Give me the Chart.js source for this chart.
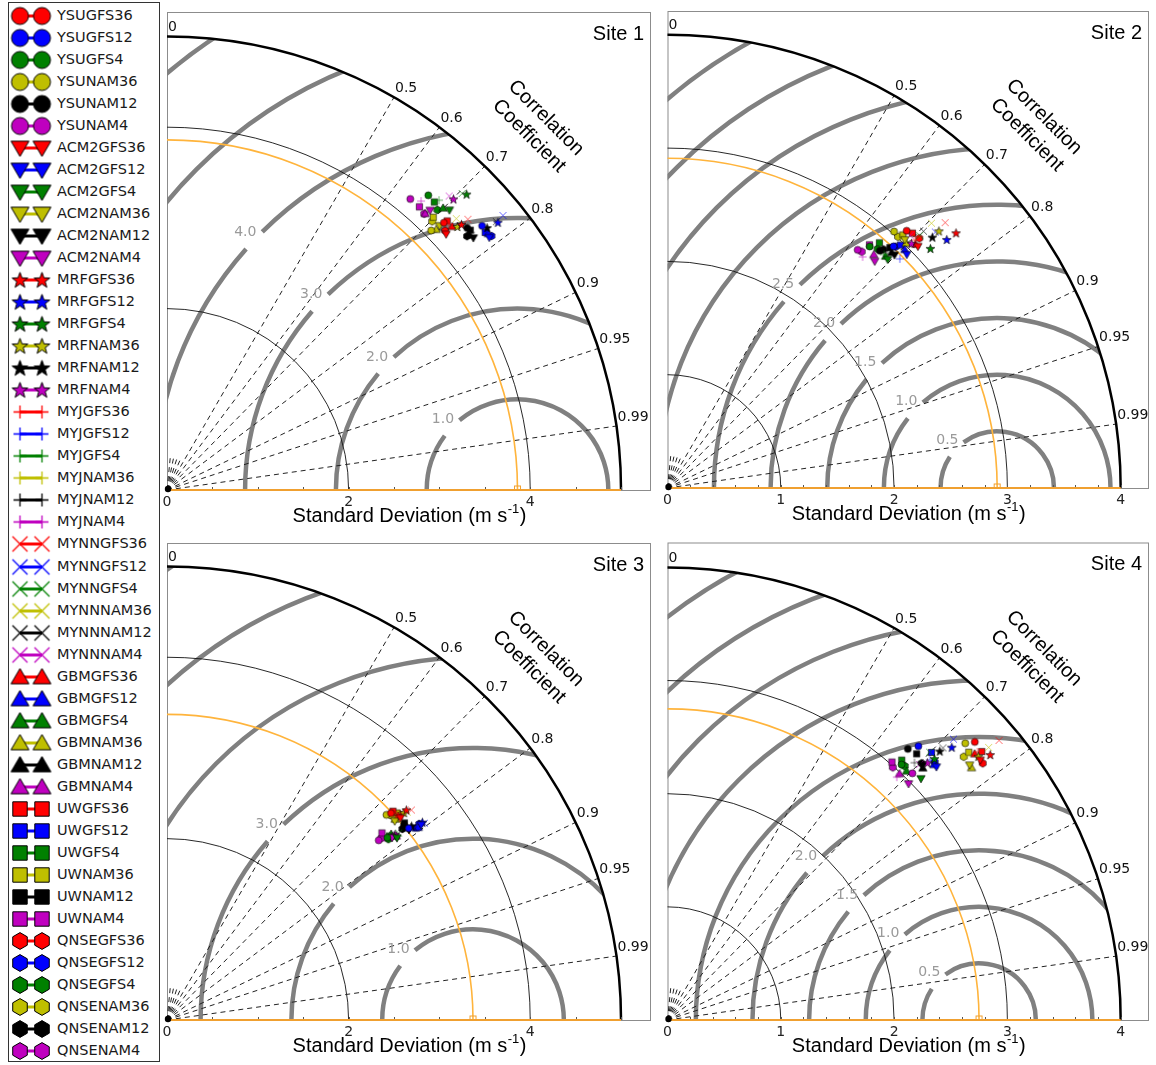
<!DOCTYPE html>
<html>
<head>
<meta charset="utf-8">
<script src="https://cdn.jsdelivr.net/npm/chart.js"></script>
<style>
  body { margin: 0; background: #fff; width: 1156px; height: 1065px; position: relative; overflow: hidden; }
  canvas.panel { position: absolute; }
  #legend { position: absolute; left: 8px; top: 2px; width: 152px; height: 1060px; border: 1px solid #333; box-sizing: border-box; background: #fff; }
  #legend .row { position: absolute; left: 0; height: 22px; width: 150px; }
  #legend .row canvas { position: absolute; left: 0; top: 0; }
  #legend .row span { position: absolute; left: 48px; top: 2px; font: 14.5px "DejaVu Sans", sans-serif; color: #1a1a1a; white-space: nowrap; }
</style>
</head>
<body>
<div id="legend"></div>
<canvas class="panel" id="site1"></canvas>
<canvas class="panel" id="site2"></canvas>
<canvas class="panel" id="site3"></canvas>
<canvas class="panel" id="site4"></canvas>
<script>
// 模式组合：边界层方案 × 驱动场
const schemes = ['YSU', 'ACM2', 'MRF', 'MYJ', 'MYNN', 'GBM', 'UW', 'QNSE'];
const forcings = ['GFS36', 'GFS12', 'GFS4', 'NAM36', 'NAM12', 'NAM4'];
const siteNames = ['Site 1', 'Site 2', 'Site 3', 'Site 4'];

// 观测标准差和图的最大半径
const refStd = [3.86, 2.91, 3.37, 2.75];
const maxStd = [5, 4, 5, 4];
const stdTicks = [[0, 2, 4], [0, 1, 2, 3, 4], [0, 2, 4], [0, 1, 2, 3, 4]];
const stdMinorStep = [0.5, 0.2, 0.5, 0.2];
const stdGrid = [[2, 4], [1, 2, 3], [2, 4], [1, 2, 3]];
const rmsLevels = [
  [1, 2, 3, 4, 5, 6],
  [0.5, 1, 1.5, 2, 2.5, 3, 3.5, 4, 4.5],
  [1, 2, 3, 4, 5, 6],
  [0.5, 1, 1.5, 2, 2.5, 3, 3.5, 4, 4.5]
];
const rmsLabels = [[1, 2, 3, 4], [0.5, 1, 1.5, 2, 2.5], [1, 2, 3], [0.5, 1, 1.5, 2]];
const corrLines = [0.1, 0.2, 0.3, 0.4, 0.5, 0.6, 0.7, 0.8, 0.9, 0.95, 0.99];
const corrLabels = [0, 0.5, 0.6, 0.7, 0.8, 0.9, 0.95, 0.99];

// 每个站点：按 YSU..QNSE，每组 GFS36, GFS12, GFS4, NAM36, NAM12, NAM4
const std1 = [
  4.24, 4.53, 4.34, 4.08, 4.39, 4.18,
  4.17, 4.51, 4.38, 4.18, 4.37, 4.23,
  4.37, 4.69, 4.64, 4.32, 4.56, 4.50,
  4.27, 4.53, 4.38, 4.18, 4.39, 4.24,
  4.46, 4.78, 4.61, 4.37, 4.68, 4.49,
  4.28, 4.53, 4.35, 4.13, 4.36, 4.17,
  4.28, 4.51, 4.33, 4.20, 4.40, 4.18,
  4.19, 4.54, 4.29, 4.16, 4.33, 4.16
];
const corr1 = [
  0.719, 0.766, 0.663, 0.713, 0.753, 0.641,
  0.737, 0.787, 0.710, 0.718, 0.772, 0.685,
  0.742, 0.777, 0.711, 0.740, 0.773, 0.701,
  0.727, 0.776, 0.684, 0.707, 0.763, 0.660,
  0.743, 0.774, 0.705, 0.729, 0.775, 0.692,
  0.734, 0.781, 0.699, 0.718, 0.764, 0.682,
  0.721, 0.777, 0.680, 0.698, 0.759, 0.665,
  0.731, 0.787, 0.694, 0.702, 0.763, 0.681
];
const std2 = [
  3.10, 2.92, 2.78, 3.02, 2.81, 2.69,
  3.07, 2.95, 2.80, 3.03, 2.87, 2.71,
  3.40, 3.30, 3.14, 3.30, 3.22, 3.05,
  3.09, 2.88, 2.81, 3.02, 2.86, 2.67,
  3.39, 3.27, 3.15, 3.30, 3.20, 3.09,
  3.07, 2.97, 2.81, 3.02, 2.87, 2.75,
  3.12, 2.97, 2.86, 3.05, 2.89, 2.79,
  3.13, 2.93, 2.81, 3.01, 2.84, 2.70
];
const corr2 = [
  0.681, 0.683, 0.642, 0.662, 0.667, 0.624,
  0.720, 0.716, 0.694, 0.691, 0.698, 0.675,
  0.749, 0.747, 0.739, 0.726, 0.726, 0.706,
  0.706, 0.712, 0.680, 0.684, 0.679, 0.645,
  0.723, 0.723, 0.707, 0.706, 0.706, 0.693,
  0.713, 0.705, 0.685, 0.698, 0.689, 0.662,
  0.693, 0.692, 0.654, 0.681, 0.679, 0.639,
  0.710, 0.687, 0.660, 0.676, 0.671, 0.635
];
const std3 = [
  3.36, 3.40, 3.15, 3.31, 3.38, 3.06,
  3.40, 3.53, 3.23, 3.33, 3.39, 3.19,
  3.51, 3.56, 3.22, 3.47, 3.44, 3.24,
  3.39, 3.49, 3.19, 3.35, 3.38, 3.12,
  3.55, 3.57, 3.28, 3.50, 3.45, 3.25,
  3.40, 3.49, 3.21, 3.35, 3.38, 3.24,
  3.39, 3.46, 3.18, 3.41, 3.40, 3.14,
  3.42, 3.52, 3.15, 3.34, 3.34, 3.10
];
const corr3 = [
  0.734, 0.783, 0.770, 0.730, 0.772, 0.762,
  0.756, 0.793, 0.784, 0.753, 0.786, 0.777,
  0.751, 0.790, 0.777, 0.752, 0.783, 0.775,
  0.746, 0.790, 0.771, 0.744, 0.780, 0.766,
  0.758, 0.794, 0.778, 0.756, 0.787, 0.779,
  0.749, 0.793, 0.769, 0.750, 0.775, 0.779,
  0.734, 0.791, 0.770, 0.743, 0.769, 0.754,
  0.748, 0.789, 0.774, 0.736, 0.776, 0.762
];
const std4 = [
  3.66, 3.28, 3.06, 3.59, 3.20, 3.07,
  3.59, 3.26, 3.09, 3.49, 3.18, 2.98,
  3.69, 3.48, 3.30, 3.60, 3.38, 3.23,
  3.62, 3.26, 3.05, 3.53, 3.15, 2.95,
  3.83, 3.54, 3.31, 3.72, 3.42, 3.17,
  3.59, 3.26, 3.05, 3.49, 3.17, 2.99,
  3.65, 3.32, 3.09, 3.56, 3.22, 3.02,
  3.59, 3.28, 3.07, 3.50, 3.19, 2.99
];
const corr4 = [
  0.741, 0.675, 0.675, 0.732, 0.663, 0.704,
  0.769, 0.728, 0.724, 0.764, 0.707, 0.714,
  0.772, 0.721, 0.714, 0.762, 0.711, 0.710,
  0.756, 0.710, 0.685, 0.750, 0.692, 0.686,
  0.764, 0.713, 0.699, 0.762, 0.711, 0.702,
  0.755, 0.721, 0.692, 0.769, 0.711, 0.685,
  0.760, 0.702, 0.669, 0.747, 0.683, 0.656,
  0.775, 0.719, 0.682, 0.747, 0.703, 0.665
];
const siteStd = [std1, std2, std3, std4];
const siteCorr = [corr1, corr2, corr3, corr4];

// 样式
const schemeShapes = ['circle', 'triangleDown', 'star', 'plus', 'cross', 'triangleUp', 'square', 'hexagon'];
const forcingColors = ['#ff0000', '#0000ff', '#008000', '#bfbf00', '#000000', '#bf00bf'];
const plotSize = { circle: 7, triangleDown: 8, star: 8.5, plus: 8, cross: 7, triangleUp: 8, square: 7, hexagon: 7.5 };
const legendSize = { circle: 17, triangleDown: 17, star: 15, plus: 13, cross: 15, triangleUp: 17, square: 16, hexagon: 16 };

// 四个子图的绘图区（页面坐标）
const panelBoxes = [
  { left: 167, top: 12, right: 651, bottom: 490, xMax: 5.33, yMax: 5.27 },
  { left: 667.5, top: 11, right: 1149, bottom: 488, xMax: 4.25, yMax: 4.21 },
  { left: 167, top: 543, right: 651, bottom: 1020, xMax: 5.33, yMax: 5.26 },
  { left: 667.5, top: 542.5, right: 1149, bottom: 1020, xMax: 4.25, yMax: 4.22 }
];

const NUM_FONT = '14px "DejaVu Sans", sans-serif';
const TXT_FONT = '20px "Liberation Sans", Arial, sans-serif';

// 生成标记图片
function makeMarker(shape, color, size, faint) {
  const pad = 3;
  const dim = Math.ceil(size + pad * 2);
  const cv = document.createElement('canvas');
  cv.width = dim;
  cv.height = dim;
  const g = cv.getContext('2d');
  const c = dim / 2, r = size / 2;
  g.fillStyle = color;
  g.strokeStyle = '#000';
  g.lineWidth = size > 10 ? 1 : 0.6;
  g.beginPath();
  if (shape === 'circle') {
    g.arc(c, c, r, 0, Math.PI * 2);
  } else if (shape === 'square') {
    g.rect(c - r * 0.9, c - r * 0.9, r * 1.8, r * 1.8);
  } else if (shape === 'triangleUp') {
    g.moveTo(c, c - r);
    g.lineTo(c + r * 1.05, c + r * 0.8);
    g.lineTo(c - r * 1.05, c + r * 0.8);
    g.closePath();
  } else if (shape === 'triangleDown') {
    g.moveTo(c, c + r);
    g.lineTo(c + r * 1.05, c - r * 0.8);
    g.lineTo(c - r * 1.05, c - r * 0.8);
    g.closePath();
  } else if (shape === 'star') {
    for (let k = 0; k < 10; k++) {
      const rad = k % 2 ? r * 0.45 : r * 1.1;
      const ang = -Math.PI / 2 + k * Math.PI / 5;
      const px = c + rad * Math.cos(ang), py = c + 0.6 + rad * Math.sin(ang);
      k ? g.lineTo(px, py) : g.moveTo(px, py);
    }
    g.closePath();
  } else if (shape === 'hexagon') {
    for (let k = 0; k < 6; k++) {
      const ang = -Math.PI / 2 + k * Math.PI / 3;
      const px = c + r * 1.05 * Math.cos(ang), py = c + r * 1.05 * Math.sin(ang);
      k ? g.lineTo(px, py) : g.moveTo(px, py);
    }
    g.closePath();
  }
  if (shape === 'plus' || shape === 'cross') {
    g.strokeStyle = color;
    g.globalAlpha = faint ? 0.6 : 1;
    g.lineWidth = size > 10 ? 1.3 : 1;
    if (shape === 'plus') {
      g.moveTo(c - r, c); g.lineTo(c + r, c);
      g.moveTo(c, c - r); g.lineTo(c, c + r);
    } else {
      g.moveTo(c - r, c - r); g.lineTo(c + r, c + r);
      g.moveTo(c - r, c + r); g.lineTo(c + r, c - r);
    }
    g.stroke();
  } else {
    g.fill();
    g.stroke();
  }
  return cv;
}

// 图例
function buildLegend() {
  const box = document.getElementById('legend');
  schemes.forEach((s, si) => {
    forcings.forEach((f, fi) => {
      const i = si * forcings.length + fi;
      const row = document.createElement('div');
      row.className = 'row';
      row.style.top = (1.5 + i * 22.04) + 'px';
      const cv = document.createElement('canvas');
      cv.width = 46;
      cv.height = 22;
      const g = cv.getContext('2d');
      const shape = schemeShapes[si], color = forcingColors[fi];
      g.strokeStyle = color;
      g.lineWidth = 3;
      g.beginPath();
      g.moveTo(11, 11);
      g.lineTo(33, 11);
      g.stroke();
      const m = makeMarker(shape, color, legendSize[shape], false);
      g.drawImage(m, 11 - m.width / 2, 11 - m.height / 2);
      g.drawImage(m, 33 - m.width / 2, 11 - m.height / 2);
      const label = document.createElement('span');
      label.textContent = s + f;
      row.appendChild(cv);
      row.appendChild(label);
      box.appendChild(row);
    });
  });
}

// 泰勒图背景：相关系数射线、标准差弧线、RMS 等值线
function taylorPlugin(site) {
  return {
    id: 'taylorGrid',
    beforeDatasetsDraw(chart) {
      const { ctx, chartArea: a, scales: { x, y } } = chart;
      const ox = x.getPixelForValue(0), oy = y.getPixelForValue(0);
      const kx = x.getPixelForValue(1) - ox, ky = oy - y.getPixelForValue(1);
      const R = maxStd[site], ref = refStd[site];
      const rx = x.getPixelForValue(ref);

      ctx.save();

      // 边框
      ctx.strokeStyle = '#8c8c8c';
      ctx.lineWidth = 1;
      ctx.strokeRect(a.left + 0.5, a.top + 0.5, a.right - a.left - 1, a.bottom - a.top);

      // RMS 等值线（限制在四分之一圆内）
      ctx.font = NUM_FONT;
      const phi = 136.5 * Math.PI / 180;
      ctx.save();
      ctx.beginPath();
      ctx.moveTo(ox, oy);
      ctx.ellipse(ox, oy, R * kx, R * ky, 0, -Math.PI / 2, 0);
      ctx.closePath();
      ctx.clip();
      ctx.strokeStyle = 'rgb(128,128,128)';
      ctx.lineWidth = 4.5;
      rmsLevels[site].forEach(lv => {
        ctx.beginPath();
        if (rmsLabels[site].includes(lv)) {
          const w = ctx.measureText(lv.toFixed(1)).width;
          const d = (w / 2 + 1) / (lv * kx + 12);
          ctx.ellipse(rx, oy, lv * kx, lv * ky, 0, -phi + d, 2 * Math.PI - phi - d);
        } else {
          ctx.ellipse(rx, oy, lv * kx, lv * ky, 0, 0, 2 * Math.PI);
        }
        ctx.stroke();
      });
      ctx.restore();

      // 标准差网格
      ctx.strokeStyle = '#111';
      ctx.lineWidth = 0.9;
      stdGrid[site].forEach(s => {
        ctx.beginPath();
        ctx.ellipse(ox, oy, s * kx, s * ky, 0, -Math.PI / 2, 0);
        ctx.stroke();
      });

      // 相关系数射线
      ctx.setLineDash([5, 4]);
      ctx.strokeStyle = '#222';
      ctx.lineWidth = 1;
      corrLines.forEach(c => {
        const th = Math.acos(c);
        const len = c >= 0.5 ? R : 32 / kx;
        ctx.beginPath();
        ctx.moveTo(ox, oy);
        ctx.lineTo(ox + len * kx * Math.cos(th), oy - len * ky * Math.sin(th));
        ctx.stroke();
      });
      ctx.setLineDash([]);

      // 观测标准差弧线
      ctx.strokeStyle = '#ffb43c';
      ctx.lineWidth = 1.6;
      ctx.beginPath();
      ctx.ellipse(ox, oy, ref * kx, ref * ky, 0, -Math.PI / 2, 0);
      ctx.stroke();

      // 外圈
      ctx.strokeStyle = '#000';
      ctx.lineWidth = 2.5;
      ctx.beginPath();
      ctx.ellipse(ox, oy, R * kx, R * ky, 0, -Math.PI / 2, 0);
      ctx.stroke();

      // 横轴：刻度、标签、标题
      ctx.strokeStyle = '#555';
      ctx.lineWidth = 1;
      const step = stdMinorStep[site];
      for (let v = step; v <= R + 1e-6; v += step) {
        const px = Math.round(x.getPixelForValue(v)) + 0.5;
        ctx.beginPath();
        ctx.moveTo(px, oy);
        ctx.lineTo(px, oy - 3);
        ctx.stroke();
      }
      ctx.strokeStyle = '#f0a030';
      ctx.lineWidth = 2;
      ctx.beginPath();
      ctx.moveTo(ox, oy);
      ctx.lineTo(ox + R * kx, oy);
      ctx.stroke();

      ctx.fillStyle = '#222';
      ctx.font = NUM_FONT;
      ctx.textAlign = 'center';
      ctx.textBaseline = 'top';
      stdTicks[site].forEach(v => ctx.fillText(String(v), x.getPixelForValue(v), oy + 5));

      const main = 'Standard Deviation (m s', sup = '-1', tail = ')';
      ctx.font = TXT_FONT;
      const w1 = ctx.measureText(main).width, w3 = ctx.measureText(tail).width;
      ctx.font = '13px "Liberation Sans", Arial, sans-serif';
      const w2 = ctx.measureText(sup).width;
      let tx = (a.left + a.right) / 2 - (w1 + w2 + w3) / 2;
      const ty = oy + 26;
      ctx.textAlign = 'left';
      ctx.textBaseline = 'middle';
      ctx.fillStyle = '#000';
      ctx.font = TXT_FONT;
      ctx.fillText(main, tx, ty);
      ctx.font = '13px "Liberation Sans", Arial, sans-serif';
      ctx.fillText(sup, tx + w1 + 0.5, ty - 7);
      ctx.font = TXT_FONT;
      ctx.fillText(tail, tx + w1 + w2 + 1, ty);

      // 相关系数标签
      ctx.font = NUM_FONT;
      ctx.fillStyle = '#111';
      ctx.textAlign = 'left';
      ctx.textBaseline = 'bottom';
      corrLabels.forEach(c => {
        const th = Math.acos(c);
        ctx.fillText(String(c), ox + R * kx * Math.cos(th) + 1, oy - R * ky * Math.sin(th) - 2);
      });

      // RMS 标签
      ctx.fillStyle = '#9a9a9a';
      ctx.textAlign = 'center';
      ctx.textBaseline = 'middle';
      rmsLabels[site].forEach(lv => {
        ctx.fillText(lv.toFixed(1), rx + (lv * kx + 12) * Math.cos(phi), oy - (lv * ky + 12) * Math.sin(phi));
      });

      // 站点名和坐标名
      ctx.font = TXT_FONT;
      ctx.fillStyle = '#000';
      ctx.textAlign = 'right';
      ctx.fillText(siteNames[site], a.right - 7, a.top + 22);

      ctx.textAlign = 'center';
      [['Correlation', -105, 106], ['Coefficient', -122, 124]].forEach(([t, dx, dy]) => {
        ctx.save();
        ctx.translate(a.right + dx, a.top + dy);
        ctx.rotate(Math.PI / 4);
        ctx.fillText(t, 0, 0);
        ctx.restore();
      });

      // 原点和观测点
      ctx.fillStyle = '#000';
      ctx.beginPath();
      ctx.arc(ox + 1, oy - 1, 3.2, 0, Math.PI * 2);
      ctx.fill();
      ctx.strokeStyle = '#f0a030';
      ctx.lineWidth = 1;
      ctx.strokeRect(rx - 3, oy - 4, 6, 4);

      ctx.restore();
    }
  };
}

function initPanel(site) {
  const box = panelBoxes[site];
  const cv = document.getElementById('site' + (site + 1));
  const cl = Math.floor(box.left) - 8, ct = Math.floor(box.top) - 12;
  const w = Math.ceil(box.right) + 8 - cl, h = Math.ceil(box.bottom) + 45 - ct;
  cv.width = w;
  cv.height = h;
  cv.style.left = cl + 'px';
  cv.style.top = ct + 'px';
  cv.style.width = w + 'px';
  cv.style.height = h + 'px';

  const stds = siteStd[site], corrs = siteCorr[site];
  const datasets = [];
  schemes.forEach((s, si) => {
    forcings.forEach((f, fi) => {
      const i = si * forcings.length + fi;
      const shape = schemeShapes[si];
      datasets.push({
        label: s + f,
        data: [{ x: stds[i] * corrs[i], y: stds[i] * Math.sqrt(1 - corrs[i] * corrs[i]) }],
        pointStyle: makeMarker(shape, forcingColors[fi], plotSize[shape], true),
        pointRadius: 4
      });
    });
  });

  new Chart(cv, {
    type: 'scatter',
    data: { datasets },
    options: {
      responsive: false,
      animation: false,
      events: [],
      layout: {
        padding: {
          left: box.left - cl,
          top: box.top - ct,
          right: cl + w - box.right,
          bottom: ct + h - box.bottom
        }
      },
      plugins: { legend: { display: false }, tooltip: { enabled: false } },
      scales: {
        x: { type: 'linear', min: 0, max: box.xMax, display: false },
        y: { type: 'linear', min: 0, max: box.yMax, display: false }
      }
    },
    plugins: [taylorPlugin(site)]
  });
}

buildLegend();
[0, 1, 2, 3].forEach(initPanel);
</script>
</body>
</html>
